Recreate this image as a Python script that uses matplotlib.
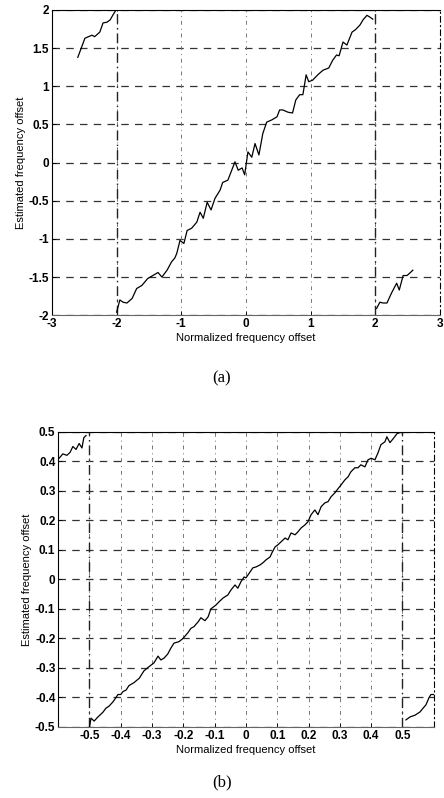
import numpy as np
import matplotlib.pyplot as plt

# --- data ---
# (a) estimator range [-2, 2)
a_x1 = [-2.60, -2.49, -2.38, -2.34, -2.26, -2.21, -2.15, -2.10, -2.06, -2.01]
a_y1 = [1.38, 1.63, 1.67, 1.65, 1.71, 1.83, 1.84, 1.87, 1.93, 2.00]

a_x2 = [-2.00, -1.95, -1.90, -1.84, -1.76, -1.69, -1.61, -1.52, -1.44, -1.36,
        -1.30, -1.22, -1.15, -1.10, -1.07, -1.02, -0.96, -0.91, -0.84, -0.76,
        -0.71, -0.66, -0.60, -0.54, -0.48, -0.40, -0.36, -0.28, -0.22, -0.17,
        -0.12, -0.06, -0.02, 0.03, 0.09, 0.14, 0.20, 0.26, 0.32, 0.40,
        0.48, 0.52, 0.57, 0.65, 0.72, 0.77, 0.83, 0.88, 0.93, 0.97,
        1.03, 1.11, 1.19, 1.28, 1.34, 1.40, 1.44, 1.50, 1.56, 1.64,
        1.69, 1.76, 1.81, 1.87, 1.91, 1.96]
a_y2 = [-1.96, -1.80, -1.83, -1.84, -1.78, -1.65, -1.61, -1.52, -1.48, -1.44,
        -1.50, -1.41, -1.30, -1.25, -1.19, -1.02, -1.06, -0.89, -0.86, -0.78,
        -0.65, -0.73, -0.52, -0.62, -0.47, -0.36, -0.26, -0.23, -0.10, 0.01,
        -0.10, -0.07, -0.16, 0.14, 0.07, 0.25, 0.10, 0.38, 0.53, 0.56,
        0.60, 0.69, 0.69, 0.66, 0.65, 0.82, 0.89, 0.89, 1.15, 1.06,
        1.08, 1.15, 1.21, 1.24, 1.34, 1.41, 1.40, 1.58, 1.54, 1.71,
        1.74, 1.80, 1.87, 1.93, 1.91, 1.88]

a_x3 = [2.02, 2.07, 2.12, 2.18, 2.25, 2.33, 2.37, 2.43, 2.49, 2.53, 2.58]
a_y3 = [-1.91, -1.83, -1.84, -1.84, -1.71, -1.58, -1.67, -1.48, -1.48, -1.45, -1.41]

a_xticks = [-3, -2, -1, 0, 1, 2, 3]
a_yticks = [-2, -1.5, -1, -0.5, 0, 0.5, 1, 1.5, 2]
a_wraps = [-2, 2]

# (b) estimator range [-0.5, 0.5)
b_x1 = [-0.597, -0.585, -0.572, -0.562, -0.553, -0.543, -0.533, -0.524, -0.518, -0.511]
b_y1 = [0.41, 0.425, 0.42, 0.43, 0.45, 0.44, 0.46, 0.445, 0.48, 0.487]

b_x2 = [-0.500, -0.495, -0.485, -0.473, -0.457, -0.447, -0.438, -0.425, -0.415, -0.409,
        -0.400, -0.393, -0.383, -0.374, -0.358, -0.341, -0.326, -0.310, -0.294, -0.281,
        -0.272, -0.262, -0.250, -0.240, -0.230, -0.214, -0.201, -0.185, -0.176, -0.166,
        -0.153, -0.144, -0.131, -0.121, -0.112, -0.096, -0.086, -0.073, -0.058, -0.048,
        -0.035, -0.026, -0.016, -0.006, 0.000, 0.013, 0.022, 0.032, 0.045, 0.054,
        0.064, 0.077, 0.083, 0.093, 0.102, 0.112, 0.125, 0.134, 0.144, 0.157,
        0.166, 0.176, 0.188, 0.198, 0.208, 0.220, 0.230, 0.240, 0.252, 0.262,
        0.272, 0.284, 0.294, 0.304, 0.316, 0.326, 0.335, 0.348, 0.358, 0.367,
        0.380, 0.390, 0.400, 0.412, 0.422, 0.431, 0.444, 0.450, 0.460, 0.473,
        0.482, 0.492, 0.500]
b_y2 = [-0.500, -0.470, -0.480, -0.466, -0.450, -0.436, -0.430, -0.415, -0.400, -0.390,
        -0.390, -0.380, -0.375, -0.360, -0.350, -0.335, -0.310, -0.296, -0.283, -0.260,
        -0.273, -0.267, -0.253, -0.233, -0.216, -0.211, -0.200, -0.180, -0.166, -0.160,
        -0.144, -0.130, -0.140, -0.127, -0.100, -0.087, -0.076, -0.063, -0.053, -0.036,
        -0.019, -0.030, -0.008, 0.008, 0.005, 0.025, 0.039, 0.042, 0.049, 0.056,
        0.066, 0.076, 0.090, 0.110, 0.117, 0.127, 0.140, 0.134, 0.157, 0.151,
        0.161, 0.174, 0.184, 0.195, 0.219, 0.235, 0.219, 0.246, 0.259, 0.263,
        0.280, 0.293, 0.307, 0.320, 0.337, 0.347, 0.364, 0.378, 0.378, 0.388,
        0.381, 0.405, 0.410, 0.405, 0.429, 0.456, 0.466, 0.483, 0.463, 0.480,
        0.493, 0.497, 0.497]

b_x3 = [0.511, 0.524, 0.540, 0.556, 0.566, 0.575, 0.585, 0.591, 0.600]
b_y3 = [-0.476, -0.466, -0.460, -0.449, -0.436, -0.425, -0.400, -0.390, -0.390]

b_xticks = [-0.5, -0.4, -0.3, -0.2, -0.1, 0, 0.1, 0.2, 0.3, 0.4, 0.5]
b_yticks = [-0.5, -0.4, -0.3, -0.2, -0.1, 0, 0.1, 0.2, 0.3, 0.4, 0.5]
b_wraps = [-0.5, 0.5]

plt.rcParams['font.family'] = ['Liberation Sans', 'DejaVu Sans']

fig = plt.figure(figsize=(4.44, 7.98), dpi=100)
ax1 = fig.add_axes([0.117, 0.605, 0.874, 0.3825])
ax2 = fig.add_axes([0.131, 0.089, 0.846, 0.370])


def style(ax, xticks, yticks, xlim, ylim):
    ax.set_xlim(xlim)
    ax.set_ylim(ylim)
    ax.set_xticks(xticks)
    ax.set_yticks(yticks)
    ax.set_xticklabels(['%g' % v for v in xticks])
    ax.set_yticklabels(['%g' % v for v in yticks])
    ax.tick_params(direction='in', length=3, width=0.6, labelsize=8.5, pad=2,
                   top=False, right=False)
    for t in ax.get_xticklabels() + ax.get_yticklabels():
        t.set_fontweight('bold')
    # grid: dashed horizontals, lighter dash-dot verticals
    for y in yticks:
        ax.axhline(y, color='#333333', lw=0.9, ls=(0, (6, 5)), zorder=1)
    for x in xticks:
        ax.axvline(x, color='#777777', lw=0.7, ls=(0, (4, 4, 1, 4)), zorder=1)
    for s in ax.spines.values():
        s.set_linewidth(0.8)
    ax.spines['bottom'].set_color('#666666')
    ax.spines['right'].set_linestyle((0, (5, 3, 1, 3)))
    ax.set_xlabel('Normalized frequency offset', fontsize=8, labelpad=2)
    ax.set_ylabel('Estimated frequency offset', fontsize=8, labelpad=2)


style(ax1, a_xticks, a_yticks, (-3, 3), (-2, 2))
style(ax2, b_xticks, b_yticks, (-0.6, 0.6), (-0.5, 0.5))

# wrap-around jumps drawn as dash-dot verticals
for x in a_wraps:
    ax1.axvline(x, color='#222222', lw=1.0, ls=(0, (7, 3, 1, 3)), zorder=2)
for x in b_wraps:
    ax2.axvline(x, color='#222222', lw=1.0, ls=(0, (7, 3, 1, 3)), zorder=2)

for xs, ys in [(a_x1, a_y1), (a_x2, a_y2), (a_x3, a_y3)]:
    ax1.plot(xs, ys, color='black', lw=0.9, zorder=3)
for xs, ys in [(b_x1, b_y1), (b_x2, b_y2), (b_x3, b_y3)]:
    ax2.plot(xs, ys, color='black', lw=0.9, zorder=3)

fig.text(0.5, 1 - 378 / 798, '(a)', ha='center', va='center',
         fontsize=12, family=['Liberation Serif', 'DejaVu Serif'])
fig.text(0.5, 1 - 782 / 798, '(b)', ha='center', va='center',
         fontsize=12, family=['Liberation Serif', 'DejaVu Serif'])

fig.savefig('out.png', dpi=100)
